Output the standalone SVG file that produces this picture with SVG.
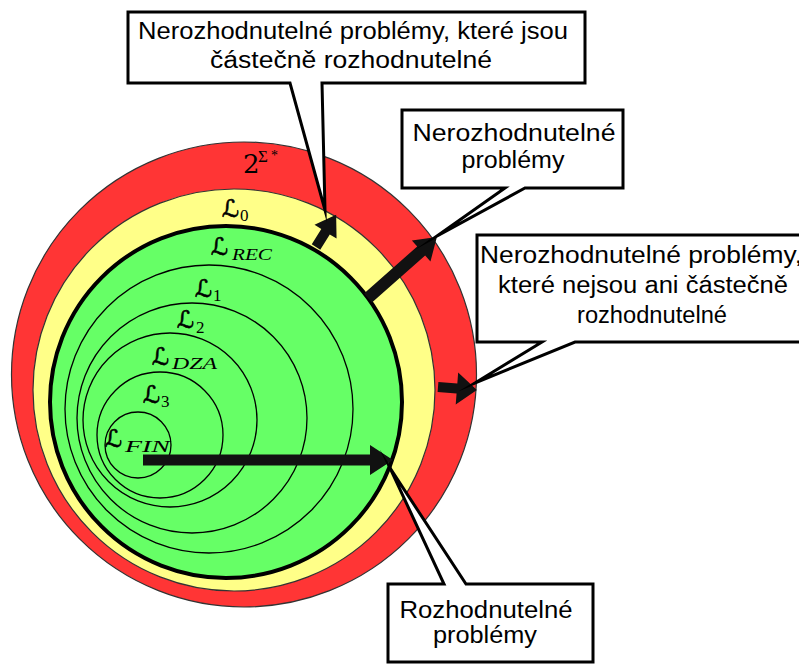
<svg xmlns="http://www.w3.org/2000/svg" width="799" height="664" viewBox="0 0 799 664">
<style>
.ring{stroke:#333;stroke-width:1.2}
.inner{fill:none;stroke:#000;stroke-width:1.3}
.cal{font-family:"DejaVu Sans","Liberation Serif",serif;font-size:24px;fill:#000;stroke:#000;stroke-width:0.6}
.sub{font-family:"Liberation Serif","DejaVu Serif",serif;font-size:17px;fill:#000}
.it{font-style:italic}
.arrow{fill:#111}
.box{fill:#fff;stroke:#000;stroke-width:3;stroke-linejoin:miter;stroke-miterlimit:20}
.txt{font-family:"Liberation Sans",Arial,sans-serif;font-size:23px;fill:#000;text-anchor:middle}
</style>
<g id="set-all">
<circle cx="244" cy="374.5" r="232.5" fill="#ff3535" class="ring"/>
<text x="243" y="173" font-family="DejaVu Serif,serif" font-size="26">2</text>
<text x="258" y="162" font-family="Liberation Serif,serif" font-size="17">Σ</text>
<text x="271" y="160" font-family="Liberation Serif,serif" font-size="14">*</text>
</g>
<g id="set-L0">
<circle cx="234" cy="390" r="201" fill="#ffff88" class="ring"/>
<text x="222" y="217" class="cal">ℒ</text><text x="240" y="221" class="sub">0</text>
</g>
<g id="set-LREC">
<circle cx="226" cy="402" r="176" fill="#66ff66" stroke="#000" stroke-width="4"/>
<text x="211" y="255" class="cal">ℒ</text><text x="232" y="260" class="sub it" textLength="40" lengthAdjust="spacingAndGlyphs">REC</text>
</g>
<g id="set-L1">
<circle cx="209" cy="409" r="144" class="inner"/>
<text x="195" y="297" class="cal">ℒ</text><text x="213" y="301" class="sub">1</text>
</g>
<g id="set-L2">
<circle cx="192" cy="418" r="115" class="inner"/>
<text x="177" y="328" class="cal">ℒ</text><text x="196" y="333" class="sub">2</text>
</g>
<g id="set-LDZA">
<circle cx="170" cy="420" r="87" class="inner"/>
<text x="152" y="365" class="cal">ℒ</text><text x="172" y="369" class="sub it" textLength="45" lengthAdjust="spacingAndGlyphs">DZA</text>
</g>
<g id="set-L3">
<circle cx="160" cy="435" r="63" class="inner"/>
<text x="143" y="403" class="cal">ℒ</text><text x="161" y="407" class="sub">3</text>
</g>
<g id="set-LFIN">
<circle cx="138" cy="445" r="33" class="inner"/>
<text x="105" y="447" class="cal">ℒ</text><text x="125" y="452" class="sub it" textLength="45" lengthAdjust="spacingAndGlyphs">FIN</text>
</g>
<g id="connectors">
<polygon class="arrow" transform="translate(143,460)" points="0,-5.5 227,-5.5 227,-15 250,0 227,15 227,5.5 0,5.5"/>
<polygon class="arrow" transform="translate(316,247) rotate(-58)" points="0,-5 18,-5 18,-13 38,0 18,13 18,5 0,5"/>
<polygon class="arrow" transform="translate(368,298) rotate(-41.5)" points="0,-6 71,-6 71,-14 92,0 71,14 71,6 0,6"/>
<polygon class="arrow" transform="translate(438,387) rotate(4.4)" points="0,-5 19,-5 19,-16 39,0 19,16 19,5 0,5"/>
</g>
<g id="callout-partial">
<path class="box" d="M128,12 H585 V83 H322 L325,210 L290,83 H128 Z"/>
<text class="txt" x="353" y="39" textLength="430" lengthAdjust="spacingAndGlyphs">Nerozhodnutelné problémy, které jsou</text>
<text class="txt" x="351" y="68" textLength="282" lengthAdjust="spacingAndGlyphs">částečně rozhodnutelné</text>
</g>
<g id="callout-undecidable">
<path class="box" d="M402,110 H623 V188 H525 L437,236 L505,188 H402 Z"/>
<text class="txt" x="514" y="141" textLength="203" lengthAdjust="spacingAndGlyphs">Nerozhodnutelné</text>
<text class="txt" x="513" y="168" textLength="103" lengthAdjust="spacingAndGlyphs">problémy</text>
</g>
<g id="callout-not-partial">
<path class="box" d="M477,235 H810 V342 H575 L475,383 L542,342 H477 Z"/>
<text x="480" y="263" font-family="Liberation Sans,Arial,sans-serif" font-size="23" textLength="322" lengthAdjust="spacingAndGlyphs">Nerozhodnutelné problémy,</text>
<text class="txt" x="643" y="293" textLength="290" lengthAdjust="spacingAndGlyphs">které nejsou ani částečně</text>
<text class="txt" x="652" y="323" textLength="150" lengthAdjust="spacingAndGlyphs">rozhodnutelné</text>
</g>
<g id="callout-decidable">
<path class="box" d="M388,584 H444 L390,468 L466,584 H593 V662 H388 Z"/>
<text class="txt" x="486" y="618" textLength="173" lengthAdjust="spacingAndGlyphs">Rozhodnutelné</text>
<text class="txt" x="485" y="643" textLength="104" lengthAdjust="spacingAndGlyphs">problémy</text>
</g>
</svg>
